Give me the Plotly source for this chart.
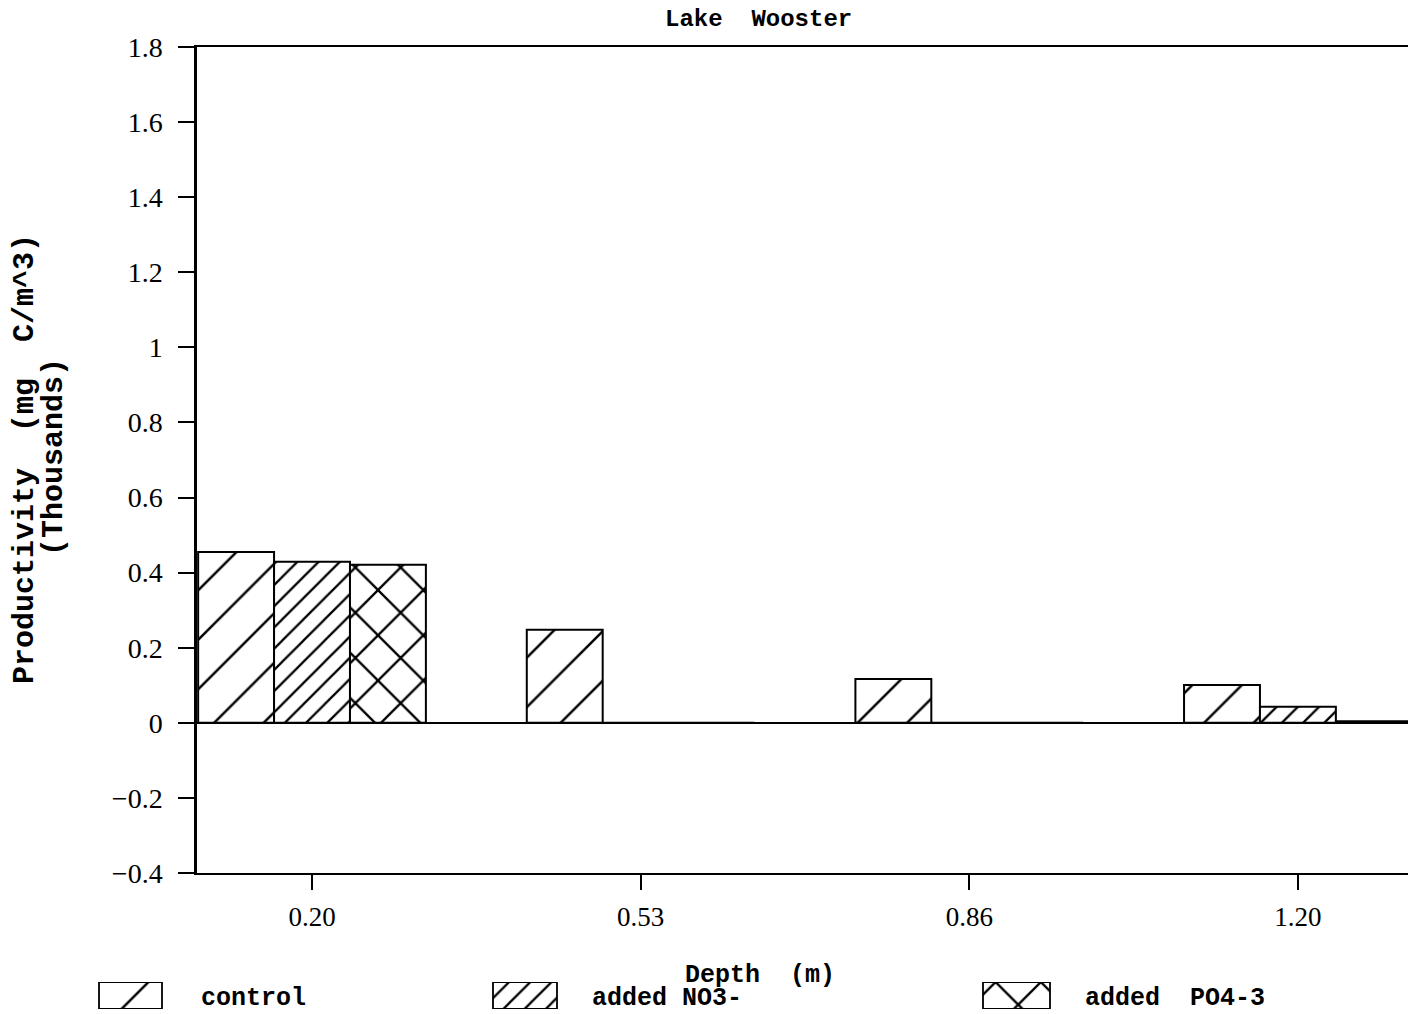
import plotly.graph_objects as go

# Depth categories (m) and productivity per treatment (thousands of mg C/m^3)
depths = ["0.20", "0.53", "0.86", "1.20"]
control = [0.455, 0.248, 0.117, 0.101]
added_no3 = [0.429, 0.0, 0.0, 0.043]
added_po4 = [0.421, 0.0, 0.0, 0.004]

series_names = ["control", "added NO3-", "added PO4-3"]
key_labels = ["control", "added NO3-", "added  PO4-3"]
y_ticks = [-0.4, -0.2, 0, 0.2, 0.4, 0.6, 0.8, 1, 1.2, 1.4, 1.6, 1.8]

W, H = 1408, 1014
MONO = "Liberation Mono"
SERIF = "Liberation Serif"

# fill pattern per treatment: (shape, spacing, solidity)
patterns = [("/", 35, 0.07), ("/", 15, 0.15), ("x", 32, 0.14)]


def px_x(p):
    return p / W


def px_y(p):
    return 1 - p / H


fig = go.Figure()

for name, vals, (shape, size, solid) in zip(series_names, [control, added_no3, added_po4], patterns):
    fig.add_trace(go.Bar(
        x=depths, y=vals, name=name, showlegend=False,
        marker=dict(
            color="white",
            line=dict(color="black", width=2),
            pattern=dict(shape=shape, size=size, solidity=solid,
                         fgcolor="black", bgcolor="white", fgopacity=1,
                         fillmode="overlay"),
        ),
        xaxis="x", yaxis="y",
    ))

# key swatches along the bottom, drawn on a hidden pixel-scaled axis pair
key_centers = [130.5, 525, 1016.5]
key_widths = [63, 64, 67]
fig.add_trace(go.Bar(
    x=key_centers, y=[1] * len(series_names), width=key_widths,
    offset=[-w / 2 for w in key_widths],
    showlegend=False, hoverinfo="skip",
    marker=dict(
        color="white",
        line=dict(color="black", width=1.8),
        pattern=dict(shape=[p[0] for p in patterns],
                     size=[p[1] for p in patterns],
                     solidity=[p[2] for p in patterns],
                     fgcolor="black", bgcolor="white", fgopacity=1,
                     fillmode="overlay"),
    ),
    xaxis="x2", yaxis="y2",
))

key_text_x = [199, 590, 1083]
annotations = []
for lbl, tx in zip(key_labels, key_text_x):
    annotations.append(dict(
        text=lbl, x=px_x(tx), y=px_y(998), xref="paper", yref="paper",
        xanchor="left", yanchor="middle", showarrow=False,
        font=dict(family=MONO, size=25, color="black", weight="bold"),
    ))

# chart title and axis titles
annotations += [
    dict(text="Lake  Wooster", x=px_x(758), y=px_y(20), xref="paper", yref="paper",
         xanchor="center", yanchor="middle", showarrow=False,
         font=dict(family=MONO, size=24, color="black", weight="bold")),
    dict(text="Depth  (m)", x=px_x(760), y=px_y(975), xref="paper", yref="paper",
         xanchor="center", yanchor="middle", showarrow=False,
         font=dict(family=MONO, size=25, color="black", weight="bold")),
    dict(text="Productivity  (mg  C/m^3)", x=px_x(25), y=px_y(459), xref="paper", yref="paper",
         xanchor="center", yanchor="middle", showarrow=False, textangle=-90,
         font=dict(family=MONO, size=30, color="black", weight="bold")),
    dict(text="(Thousands)", x=px_x(54), y=px_y(457), xref="paper", yref="paper",
         xanchor="center", yanchor="middle", showarrow=False, textangle=-90,
         font=dict(family=MONO, size=30, color="black", weight="bold")),
]

fig.update_layout(
    width=W, height=H,
    margin=dict(l=0, r=0, t=0, b=0),
    paper_bgcolor="white", plot_bgcolor="white",
    barmode="group", bargap=0.307, bargroupgap=0,
    annotations=annotations,
    xaxis=dict(
        type="category", categoryorder="array", categoryarray=depths,
        domain=[197 / W, 1], range=[-0.35, 3.335],
        showline=True, linecolor="black", linewidth=1.5, mirror=True,
        ticks="outside", ticklen=15, tickwidth=1.5, tickcolor="black",
        ticklabelstandoff=4,
        tickfont=dict(family=SERIF, size=27, color="black"),
        showgrid=False, zeroline=False, automargin=False, fixedrange=True,
    ),
    yaxis=dict(
        domain=[px_y(873), px_y(47)], range=[-0.4, 1.8],
        tickmode="array", tickvals=y_ticks,
        showline=True, linecolor="black", linewidth=2.5,
        ticks="outside", ticklen=16, tickwidth=1.5, tickcolor="black",
        ticklabelstandoff=10,
        tickfont=dict(family=SERIF, size=28, color="black"),
        showgrid=False, zeroline=True, zerolinecolor="black", zerolinewidth=2,
        automargin=False, fixedrange=True,
    ),
    xaxis2=dict(domain=[0, 1], range=[0, W], anchor="y2", visible=False, fixedrange=True),
    yaxis2=dict(domain=[px_y(1009), px_y(982)], range=[0, 1], anchor="x2",
                visible=False, fixedrange=True),
)

fig.write_html("out.html")
